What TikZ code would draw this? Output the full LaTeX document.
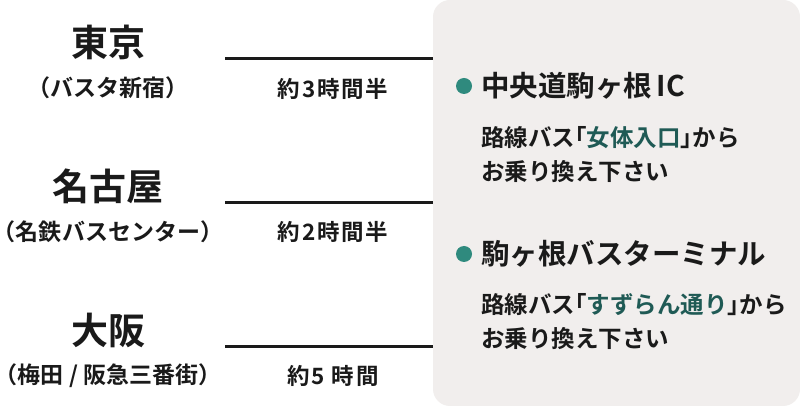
\documentclass[tikz,border=0pt]{standalone}
\usepackage{fontspec}
\setmainfont{Noto Sans CJK JP}[BoldFont={* Bold}]
\newfontfamily\jpb{Noto Sans CJK JP Bold}
\newfontfamily\jpbls{Noto Sans CJK JP Bold}[LetterSpace=8]
\newfontfamily\jpbh{Noto Sans CJK JP Bold}[RawFeature=+halt]
\definecolor{boxbg}{HTML}{F1EEED}
\definecolor{dotc}{HTML}{2F8A7E}
\definecolor{hlc}{HTML}{1F5A55}
\definecolor{txt}{HTML}{1A1A1A}
\newcommand{\lbr}{{\jpbh 「}}
\newcommand{\rbr}{{\jpbh 」}}
\newcommand{\lpar}{{\jpbh （}}
\newcommand{\rpar}{{\jpbh ）}}
\begin{document}
\begin{tikzpicture}[x=1pt,y=1pt,
  city/.style={font=\jpb\fontsize{37}{37}\selectfont, text=txt, inner sep=0pt},
  sub/.style={font=\jpb\fontsize{23}{24}\selectfont, text=txt, inner sep=0pt},
  dur/.style={font=\jpbls\fontsize{22.5}{24}\selectfont, text=txt, inner sep=0pt},
  head/.style={font=\jpb\fontsize{28.5}{28}\selectfont, text=txt, inner sep=0pt, anchor=west},
  body/.style={font=\jpb\fontsize{23.5}{34}\selectfont, text=txt, inner sep=0pt, anchor=west, align=left},
  rule/.style={line width=3pt, txt},
  dot/.style={circle, fill=dotc, minimum size=16pt, inner sep=0pt}]
\useasboundingbox (0,0) rectangle (800,412);
\fill[white] (0,0) rectangle (800,412);
\fill[boxbg, rounded corners=17pt] (433,6) rectangle (800,412);
% cities
\node[city] (tokyo) at (108,370) {東京};
\node[sub] (tokyos) at (108,324) {\lpar バスタ新宿\rpar};
\node[city] (nagoya) at (108,226) {名古屋};
\node[sub] (nagoyas) at (108,180) {\lpar 名鉄バスセンター\rpar};
\node[city] (osaka) at (108,82) {大阪};
\node[sub] (osakas) at (108,36) {\lpar 梅田 / 阪急三番街\rpar};
% lines
\coordinate (l1a) at (225,353); \coordinate (l1b) at (433,353);
\coordinate (l2a) at (225,209); \coordinate (l2b) at (433,209);
\coordinate (l3a) at (225,65);  \coordinate (l3b) at (433,65);
\draw[rule] (l1a) -- (l1b);
\draw[rule] (l2a) -- (l2b);
\draw[rule] (l3a) -- (l3b);
\node[dur] (d1) at (333,323) {約3時間半};
\node[dur] (d2) at (333,180) {約2時間半};
\node[dur] (d3) at (333,36) {約5 時間};
% right box
\node[dot] (dot1) at (464,326) {};
\node[head] (h1) at (481,326) {中央道駒ヶ根\,IC};
\node[body] (b1) at (481,257) {路線バス\lbr\textcolor{hlc}{女体入口}\rbr から\\お乗り換え下さい};
\node[dot] (dot2) at (464,158) {};
\node[head] (h2) at (481,158) {駒ヶ根バスターミナル};
\node[body] (b2) at (481,90) {路線バス\lbr\textcolor{hlc}{すずらん通り}\rbr から\\お乗り換え下さい};
\end{tikzpicture}
\end{document}
